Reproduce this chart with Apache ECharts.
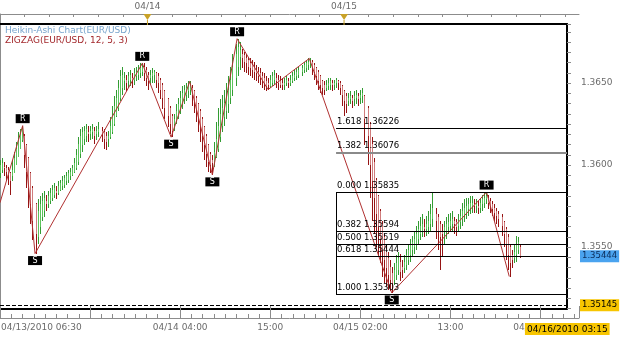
<!DOCTYPE html>
<html><head><meta charset="utf-8">
<script src="https://cdn.jsdelivr.net/npm/echarts@6/dist/echarts.min.js"></script>
<style>html,body{margin:0;padding:0;background:#fff}#c{width:625px;height:339px}</style>
</head><body><div id="c"></div>
<script>
// Heikin-Ashi 15-minute candles, EUR/USD, from 04/13/2010 06:30. Row: [open, close, low, high]
const haCandles = [
[1.3595,1.3600,1.3592,1.3603],[1.3597,1.3601,1.3595,1.3604],[1.3599,1.3598,1.3593,1.3602],[1.3598,1.3596,1.3590,1.3600],
[1.3597,1.3594,1.3588,1.3599],[1.3595,1.3590,1.3582,1.3596],[1.3593,1.3597,1.3590,1.3603],[1.3595,1.3604,1.3595,1.3608],
[1.3600,1.3610,1.3600,1.3614],[1.3605,1.3616,1.3605,1.3620],[1.3610,1.3619,1.3610,1.3622],[1.3615,1.3622,1.3614,1.3624],
[1.3618,1.3606,1.3598,1.3619],[1.3612,1.3596,1.3586,1.3613],[1.3604,1.3586,1.3574,1.3605],[1.3595,1.3576,1.3564,1.3596],
[1.3586,1.3566,1.3554,1.3587],[1.3576,1.3558,1.3546,1.3577],
[1.3556,1.3572,1.3552,1.3579],[1.3562,1.3576,1.3558,1.3581],[1.3568,1.3578,1.3566,1.3583],[1.3572,1.3580,1.3568,1.3584],
[1.3578,1.3576,1.3572,1.3582],[1.3576,1.3581,1.3574,1.3584],[1.3578,1.3583,1.3576,1.3586],[1.3580,1.3585,1.3578,1.3588],
[1.3582,1.3586,1.3580,1.3589],[1.3584,1.3583,1.3579,1.3587],[1.3583,1.3587,1.3582,1.3590],[1.3585,1.3589,1.3584,1.3591],
[1.3587,1.3590,1.3585,1.3593],[1.3588,1.3592,1.3586,1.3594],[1.3590,1.3593,1.3588,1.3596],[1.3591,1.3595,1.3589,1.3597],
[1.3593,1.3596,1.3591,1.3598],[1.3594,1.3598,1.3593,1.3600],[1.3596,1.3601,1.3595,1.3604],[1.3598,1.3606,1.3597,1.3610],
[1.3602,1.3613,1.3600,1.3617],[1.3607,1.3618,1.3604,1.3622],[1.3612,1.3620,1.3608,1.3623],[1.3616,1.3621,1.3612,1.3624],
[1.3618,1.3622,1.3614,1.3625],[1.3620,1.3619,1.3614,1.3624],[1.3619,1.3621,1.3615,1.3624],[1.3620,1.3622,1.3616,1.3625],
[1.3621,1.3618,1.3613,1.3623],[1.3619,1.3621,1.3615,1.3624],[1.3620,1.3622,1.3617,1.3626],[1.3621,1.3619,1.3614,1.3623],
[1.3620,1.3616,1.3610,1.3622],[1.3618,1.3614,1.3609,1.3620],[1.3616,1.3618,1.3611,1.3621],[1.3617,1.3624,1.3616,1.3629],
[1.3620,1.3630,1.3619,1.3636],[1.3625,1.3636,1.3624,1.3642],[1.3630,1.3641,1.3629,1.3646],[1.3635,1.3647,1.3633,1.3652],
[1.3641,1.3654,1.3639,1.3658],[1.3647,1.3655,1.3643,1.3660],[1.3651,1.3653,1.3646,1.3657],[1.3652,1.3650,1.3645,1.3655],
[1.3651,1.3654,1.3647,1.3657],[1.3652,1.3655,1.3648,1.3658],[1.3653,1.3652,1.3647,1.3656],[1.3652,1.3656,1.3649,1.3659],
[1.3654,1.3657,1.3651,1.3660],[1.3655,1.3658,1.3652,1.3661],[1.3656,1.3659,1.3653,1.3662],[1.3657,1.3660,1.3654,1.3662],
[1.3660,1.3656,1.3651,1.3662],[1.3658,1.3653,1.3648,1.3660],[1.3655,1.3651,1.3646,1.3657],[1.3653,1.3655,1.3649,1.3658],
[1.3654,1.3656,1.3650,1.3659],[1.3655,1.3657,1.3650,1.3658],[1.3656,1.3652,1.3647,1.3657],[1.3654,1.3650,1.3644,1.3656],
[1.3652,1.3646,1.3640,1.3653],[1.3649,1.3641,1.3634,1.3650],[1.3645,1.3635,1.3628,1.3646],[1.3640,1.3630,1.3623,1.3641],
[1.3635,1.3625,1.3619,1.3636],[1.3630,1.3621,1.3617,1.3631],
[1.3625,1.3628,1.3621,1.3631],[1.3627,1.3633,1.3625,1.3637],[1.3630,1.3637,1.3628,1.3641],[1.3634,1.3641,1.3631,1.3645],
[1.3637,1.3644,1.3634,1.3648],[1.3640,1.3646,1.3637,1.3649],[1.3643,1.3647,1.3639,1.3650],[1.3645,1.3648,1.3641,1.3651],
[1.3646,1.3649,1.3643,1.3651],
[1.3647,1.3643,1.3636,1.3649],[1.3645,1.3639,1.3632,1.3646],[1.3641,1.3634,1.3626,1.3642],[1.3637,1.3629,1.3620,1.3638],
[1.3633,1.3624,1.3614,1.3634],[1.3628,1.3618,1.3608,1.3629],[1.3623,1.3612,1.3603,1.3624],[1.3618,1.3607,1.3599,1.3619],
[1.3612,1.3602,1.3596,1.3613],[1.3607,1.3600,1.3595,1.3608],[1.3603,1.3601,1.3594,1.3606],
[1.3601,1.3608,1.3599,1.3614],[1.3605,1.3616,1.3604,1.3626],[1.3610,1.3624,1.3608,1.3635],[1.3617,1.3631,1.3614,1.3640],
[1.3624,1.3635,1.3620,1.3643],[1.3629,1.3638,1.3624,1.3646],[1.3633,1.3641,1.3628,1.3650],[1.3637,1.3646,1.3632,1.3654],
[1.3641,1.3652,1.3637,1.3660],[1.3646,1.3660,1.3642,1.3668],[1.3653,1.3668,1.3648,1.3674],[1.3660,1.3672,1.3654,1.3677],
[1.3666,1.3670,1.3658,1.3675],[1.3668,1.3665,1.3659,1.3671],[1.3667,1.3663,1.3657,1.3669],[1.3665,1.3662,1.3656,1.3668],
[1.3664,1.3660,1.3655,1.3666],[1.3662,1.3659,1.3654,1.3665],[1.3661,1.3658,1.3653,1.3664],[1.3660,1.3657,1.3652,1.3663],
[1.3658,1.3656,1.3651,1.3661],[1.3657,1.3654,1.3650,1.3660],[1.3656,1.3653,1.3649,1.3659],[1.3654,1.3651,1.3647,1.3657],
[1.3653,1.3650,1.3646,1.3656],[1.3651,1.3648,1.3645,1.3654],[1.3650,1.3649,1.3646,1.3653],
[1.3648,1.3652,1.3647,1.3655],[1.3650,1.3654,1.3648,1.3657],[1.3652,1.3655,1.3649,1.3658],[1.3653,1.3651,1.3647,1.3656],
[1.3652,1.3650,1.3646,1.3655],[1.3651,1.3649,1.3647,1.3654],[1.3650,1.3649,1.3646,1.3653],[1.3649,1.3650,1.3646,1.3653],
[1.3650,1.3652,1.3648,1.3654],[1.3651,1.3650,1.3647,1.3653],[1.3650,1.3652,1.3648,1.3655],[1.3651,1.3654,1.3650,1.3657],
[1.3653,1.3655,1.3651,1.3658],[1.3654,1.3657,1.3652,1.3659],[1.3655,1.3658,1.3653,1.3660],[1.3657,1.3659,1.3654,1.3661],
[1.3658,1.3661,1.3656,1.3663],[1.3659,1.3662,1.3657,1.3664],[1.3661,1.3663,1.3658,1.3665],[1.3662,1.3663,1.3659,1.3665],
[1.3663,1.3660,1.3655,1.3664],[1.3661,1.3657,1.3652,1.3662],[1.3659,1.3654,1.3649,1.3660],[1.3657,1.3651,1.3646,1.3658],
[1.3654,1.3649,1.3644,1.3655],[1.3651,1.3647,1.3643,1.3652],[1.3649,1.3646,1.3643,1.3651],[1.3647,1.3649,1.3645,1.3652],
[1.3648,1.3650,1.3646,1.3653],[1.3649,1.3651,1.3646,1.3653],[1.3650,1.3649,1.3645,1.3652],[1.3649,1.3650,1.3646,1.3652],
[1.3650,1.3652,1.3647,1.3653],[1.3651,1.3650,1.3646,1.3652],[1.3650,1.3647,1.3643,1.3651],[1.3648,1.3643,1.3636,1.3649],
[1.3645,1.3639,1.3630,1.3646],[1.3642,1.3637,1.3632,1.3644],[1.3639,1.3641,1.3636,1.3644],[1.3640,1.3642,1.3637,1.3645],
[1.3641,1.3639,1.3635,1.3643],[1.3640,1.3642,1.3636,1.3645],[1.3641,1.3643,1.3637,1.3646],[1.3642,1.3640,1.3636,1.3644],
[1.3641,1.3643,1.3637,1.3646],[1.3642,1.3644,1.3638,1.3647],[1.3642,1.3628,1.3612,1.3643],[1.3635,1.3618,1.3600,1.3636],
[1.3625,1.3600,1.3580,1.3626],[1.3613,1.3590,1.3566,1.3617],[1.3602,1.3580,1.3558,1.3604],[1.3591,1.3570,1.3550,1.3592],
[1.3581,1.3562,1.3544,1.3582],[1.3572,1.3555,1.3540,1.3573],[1.3564,1.3548,1.3532,1.3566],[1.3556,1.3542,1.3528,1.3558],
[1.3549,1.3537,1.3526,1.3552],[1.3543,1.3533,1.3524,1.3547],[1.3538,1.3530,1.3523,1.3542],[1.3534,1.3528,1.3522,1.3538],
[1.3530,1.3536,1.3527,1.3540],[1.3533,1.3540,1.3530,1.3545],[1.3536,1.3543,1.3533,1.3547],[1.3541,1.3535,1.3529,1.3546],
[1.3538,1.3536,1.3531,1.3542],[1.3537,1.3541,1.3534,1.3545],[1.3539,1.3545,1.3536,1.3549],[1.3542,1.3548,1.3539,1.3552],
[1.3545,1.3551,1.3541,1.3555],[1.3548,1.3553,1.3544,1.3557],[1.3550,1.3555,1.3546,1.3559],[1.3552,1.3558,1.3548,1.3563],
[1.3555,1.3561,1.3551,1.3566],[1.3558,1.3563,1.3554,1.3568],[1.3560,1.3564,1.3556,1.3570],[1.3562,1.3561,1.3556,1.3567],
[1.3561,1.3564,1.3557,1.3569],[1.3562,1.3566,1.3558,1.3572],[1.3564,1.3570,1.3560,1.3576],[1.3567,1.3574,1.3562,1.3583],
[1.3570,1.3566,1.3555,1.3574],[1.3568,1.3560,1.3548,1.3570],[1.3564,1.3556,1.3536,1.3566],[1.3560,1.3558,1.3544,1.3564],
[1.3559,1.3562,1.3552,1.3566],[1.3560,1.3564,1.3555,1.3568],[1.3562,1.3565,1.3558,1.3570],[1.3563,1.3566,1.3559,1.3571],
[1.3564,1.3567,1.3560,1.3572],[1.3566,1.3564,1.3558,1.3568],[1.3565,1.3562,1.3557,1.3567],[1.3563,1.3566,1.3559,1.3570],
[1.3565,1.3569,1.3561,1.3573],[1.3567,1.3572,1.3563,1.3577],[1.3569,1.3574,1.3565,1.3579],[1.3571,1.3575,1.3567,1.3580],
[1.3573,1.3576,1.3569,1.3580],[1.3574,1.3577,1.3570,1.3581],[1.3575,1.3577,1.3571,1.3581],[1.3576,1.3575,1.3571,1.3579],
[1.3575,1.3576,1.3571,1.3579],[1.3575,1.3574,1.3570,1.3578],[1.3574,1.3577,1.3571,1.3580],[1.3576,1.3579,1.3572,1.3582],
[1.3577,1.3580,1.3574,1.3583],[1.3579,1.3581,1.3576,1.35835],
[1.3580,1.3577,1.3573,1.3582],[1.3578,1.3575,1.3571,1.3580],[1.3576,1.3573,1.3569,1.3578],[1.3574,1.3571,1.3566,1.3576],
[1.3572,1.3569,1.3564,1.3574],[1.3570,1.3567,1.3562,1.3572],[1.3568,1.3563,1.3557,1.3570],[1.3565,1.3558,1.3550,1.3566],
[1.3561,1.3552,1.3542,1.3562],[1.3556,1.3545,1.3536,1.3558],[1.3550,1.3540,1.3532,1.3552],
[1.3545,1.3542,1.3537,1.3548],[1.3543,1.3547,1.3540,1.3552],[1.3545,1.3552,1.3541,1.3557],[1.3548,1.3553,1.3546,1.3556],
[1.3550,1.35444,1.3543,1.3551]
];
const slotCount = 276;                 // 15-minute slots from 04/13 06:30 to 04/16 03:15
// ZIGZAG(12,5,3) turning points (slot index, price)
const zzIndex = [0, 11, 17, 69, 83, 92, 103, 115, 130, 150, 190, 236, 247];
const zzPrice = [1.3577, 1.3624, 1.3546, 1.3662, 1.3617, 1.3651, 1.3594, 1.3677, 1.3646, 1.3665, 1.3522, 1.35835, 1.3532];
const peakIndex = [11, 69, 115, 236];
const peakPrice = [1.3624, 1.3662, 1.3677, 1.35835];
const troughIndex = [17, 83, 103, 190];
const troughPrice = [1.3546, 1.3617, 1.3594, 1.3522];
// Fibonacci block
const fibRatio = ['1.618', '1.382', '0.000', '0.382', '0.500', '0.618', '1.000'];
const fibPriceText = ['1.36226', '1.36076', '1.35835', '1.35594', '1.35519', '1.35444', '1.35303'];
const fibLevel = [1.36226, 1.36076, 1.35835, 1.35594, 1.35519, 1.35444, 1.3521];
const fibStartIndex = 163;
const lastPrice = 1.35444;
const refPrice = 1.35145;
// time axes (hours after 04/13 06:00)
const bottomMajorLabels = ['', '', '04/14 04:00', '15:00', '04/15 02:00', '13:00', '04/16 00:00'];
const topLabels = {6: '04/14', 14: '04/15'};
const dayMarkHours = [18, 42];
const startLabel = '04/13/2010 06:30';
const endLabel = '04/16/2010 03:15';
const endHour = 69.25;

const FONT = 'DejaVu Sans';
const UP_BODY = '#5cc45c', UP_WICK = '#339c33', DN_BODY = '#d07c7c', DN_WICK = '#961414';
const cats = [];
for (let i = 0; i < slotCount; i++) cats.push(String(i));
const candleData = haCandles.map((r, i) => [i, r[0], r[1], r[2], r[3]]);
const zzData = zzIndex.map((ix, k) => [ix, zzPrice[k]]);

function renderCandle(params, api) {
  const i = api.value(0), o = api.value(1), c = api.value(2), l = api.value(3), h = api.value(4);
  const pO = api.coord([i, o]), pC = api.coord([i, c]), pL = api.coord([i, l]), pH = api.coord([i, h]);
  const x = 2 * Math.round(pO[0] / 2);   // snap each 1px bar onto an even pixel column
  const up = c >= o;
  const top = Math.round(Math.min(pO[1], pC[1])), bot = Math.round(Math.max(pO[1], pC[1]));
  const yH = Math.round(pH[1]), yL = Math.round(pL[1]);
  const bodyH = Math.max(bot - top, 1);
  return {type: 'group', children: [
    {type: 'rect', shape: {x: x, y: yH, width: 1, height: Math.max(top - yH, 0)}, style: {fill: up ? UP_WICK : DN_WICK}},
    {type: 'rect', shape: {x: x, y: top, width: 1, height: bodyH}, style: {fill: up ? UP_BODY : DN_BODY}},
    {type: 'rect', shape: {x: x, y: top + bodyH, width: 1, height: Math.max(yL - top - bodyH, 0)}, style: {fill: up ? UP_WICK : DN_WICK}}
  ]};
}

const fibLines = [];
fibLevel.forEach((lv, k) => {
  fibLines.push([
    {coord: [fibStartIndex, lv],
     lineStyle: k === 1 ? {color: '#8a8a8a', width: 2, type: 'solid'} : {color: '#000', width: 1, type: 'solid'},
     label: {show: true, position: 'insideStartTop', distance: [1, 2], formatter: fibRatio[k] + ' ' + fibPriceText[k],
             color: '#000', fontSize: 8.5, fontFamily: FONT}},
    {coord: [slotCount - 1, lv]}
  ]);
});
fibLines.push([{coord: [fibStartIndex, fibLevel[2]], lineStyle: {color: '#000', width: 1, type: 'solid'}, label: {show: false}},
               {coord: [fibStartIndex, fibLevel[6]]}]);

const priceLines = [
  [{coord: [0, refPrice], lineStyle: {color: '#000', width: 1, type: 'dashed'},
    label: {show: true, position: 'end', distance: 13, formatter: refPrice.toFixed(5), backgroundColor: '#f7c500',
            color: '#000', padding: [2, 2, 1, 2], fontSize: 8.5, fontFamily: FONT}},
   {coord: [slotCount - 1, refPrice]}],
  [{coord: [fibStartIndex, lastPrice], lineStyle: {color: '#000', width: 1, type: 'solid'},
    label: {show: true, position: 'end', distance: 13, formatter: lastPrice.toFixed(5), backgroundColor: '#4aa3ef',
            color: '#0b2b57', padding: [2, 2, 1, 2], fontSize: 8.5, fontFamily: FONT}},
   {coord: [slotCount - 1, lastPrice]}]
];

const chart = echarts.init(document.getElementById('c'));
chart.setOption({
  animation: false,
  backgroundColor: '#fff',
  title: [
    {text: 'Heikin-Ashi Chart(EUR/USD)', left: 5, top: 26, padding: 0,
     textStyle: {fontFamily: FONT, fontSize: 9, fontWeight: 'normal', color: '#76a3cc'}},
    {text: 'ZIGZAG(EUR/USD, 12, 5, 3)', left: 5, top: 36, padding: 0,
     textStyle: {fontFamily: FONT, fontSize: 9, fontWeight: 'normal', color: '#a3282c'}}
  ],
  grid: [
    {left: 0, top: 24, width: 567, height: 284.5},
    {left: -4.125, top: 14, width: 583.125, height: 304}
  ],
  xAxis: [
    {gridIndex: 0, type: 'category', data: cats, boundaryGap: false, position: 'bottom',
     axisLine: {lineStyle: {color: '#000', width: 2}}, axisTick: {show: false}, axisLabel: {show: false}, splitLine: {show: false}},
    {gridIndex: 0, type: 'category', data: cats, boundaryGap: false, position: 'top',
     axisLine: {lineStyle: {color: '#000', width: 2}}, axisTick: {show: false}, axisLabel: {show: false}, splitLine: {show: false}},
    {gridIndex: 1, type: 'value', min: 0, max: 70.682, interval: 1.375, position: 'bottom',
     axisLine: {lineStyle: {color: '#8c8c8c'}}, axisTick: {inside: true, length: 4, lineStyle: {color: '#8c8c8c'}},
     axisLabel: {margin: 5, color: '#6b6b6b', fontSize: 9, fontFamily: FONT, showMinLabel: false, showMaxLabel: false,
       formatter: v => { const k = Math.round(v / 11); return Math.abs(v - 11 * k) < 1e-6 ? (bottomMajorLabels[k] || '') : ''; }},
     splitLine: {show: false}},
    {gridIndex: 1, type: 'value', min: 0, max: 70.682, interval: 11, position: 'bottom',
     axisLine: {show: false}, axisTick: {inside: true, length: 12, lineStyle: {color: '#8c8c8c'}},
     axisLabel: {show: false}, splitLine: {show: false}},
    {gridIndex: 1, type: 'value', min: 0, max: 70.682, interval: 3, position: 'top',
     axisLine: {lineStyle: {color: '#8c8c8c'}}, axisTick: {inside: true, length: 3, lineStyle: {color: '#8c8c8c'}},
     axisLabel: {margin: 3, color: '#6b6b6b', fontSize: 9, fontFamily: FONT, showMinLabel: false, showMaxLabel: false,
       formatter: v => { const k = Math.round(v / 3); return Math.abs(v - 3 * k) < 1e-6 ? (topLabels[k] || '') : ''; }},
     splitLine: {show: false}}
  ],
  yAxis: [
    {gridIndex: 0, type: 'value', position: 'right', min: 1.35125, max: 1.3686, interval: 0.000625,
     axisLine: {show: true, lineStyle: {color: '#000', width: 2}},
     axisTick: {show: true, length: 4, lineStyle: {color: '#8c8c8c'}},
     axisLabel: {margin: 14, color: '#6b6b6b', fontSize: 9, fontFamily: FONT,
       formatter: v => { const k = Math.round(v * 200); return Math.abs(v * 200 - k) < 1e-6 ? (k / 200).toFixed(4) : ''; }},
     splitLine: {show: false}},
    {gridIndex: 1, type: 'value', position: 'right', min: 0, max: 1,
     axisLine: {show: true, lineStyle: {color: '#8c8c8c'}}, axisTick: {show: false}, axisLabel: {show: false}, splitLine: {show: false}}
  ],
  series: [
    {type: 'custom', xAxisIndex: 0, yAxisIndex: 0, data: candleData, renderItem: renderCandle,
     encode: {x: 0, y: [1, 2, 3, 4]}, z: 2, silent: true},
    {type: 'line', xAxisIndex: 0, yAxisIndex: 0, data: zzData, symbol: 'none', z: 3,
     lineStyle: {color: '#b03030', width: 1},
     markLine: {silent: true, symbol: ['none', 'none'], animation: false, data: fibLines}},
    {type: 'line', xAxisIndex: 0, yAxisIndex: 0, data: [], symbol: 'none', z: 3, clip: false,
     markLine: {silent: true, symbol: ['none', 'none'], animation: false, data: priceLines}},
    {type: 'scatter', xAxisIndex: 0, yAxisIndex: 0, z: 4, data: peakIndex.map((ix, k) => [ix, peakPrice[k]]),
     symbol: 'rect', symbolSize: [14, 9], symbolOffset: [0, -7], itemStyle: {color: '#000', opacity: 1},
     label: {show: true, position: 'inside', formatter: 'R', color: '#fff', fontSize: 8, fontFamily: FONT}},
    {type: 'scatter', xAxisIndex: 0, yAxisIndex: 0, z: 4, data: troughIndex.map((ix, k) => [ix, troughPrice[k]]),
     symbol: 'rect', symbolSize: [14, 9], symbolOffset: [0, 7], itemStyle: {color: '#000', opacity: 1},
     label: {show: true, position: 'inside', formatter: 'S', color: '#fff', fontSize: 8, fontFamily: FONT}},
    {type: 'scatter', xAxisIndex: 2, yAxisIndex: 1, z: 4, data: dayMarkHours.map(h => [h, 1]),
     symbol: 'path://M0,0 L8,0 L4,6 Z M3.5,6 L4.5,6 L4.5,11 L3.5,11 Z', symbolSize: [8, 11], symbolOffset: [0, 5.5],
     symbolKeepAspect: false, itemStyle: {color: '#c9a227', opacity: 1}},
    {type: 'line', xAxisIndex: 2, yAxisIndex: 1, data: [], symbol: 'none',
     markLine: {silent: true, symbol: ['none', 'none'], data: [
       {xAxis: endHour, lineStyle: {color: 'rgba(0,0,0,0)', width: 0},
        label: {show: true, position: 'start', distance: 5, formatter: endLabel, backgroundColor: '#f7c500',
                color: '#000', padding: [2, 2, 1, 2], fontSize: 9, fontFamily: FONT}}
     ]}}
  ],
  graphic: [
    {type: 'text', left: 1, top: 323, style: {text: startLabel, fill: '#6b6b6b', font: '9px "DejaVu Sans"'}}
  ]
});
</script></body></html>
